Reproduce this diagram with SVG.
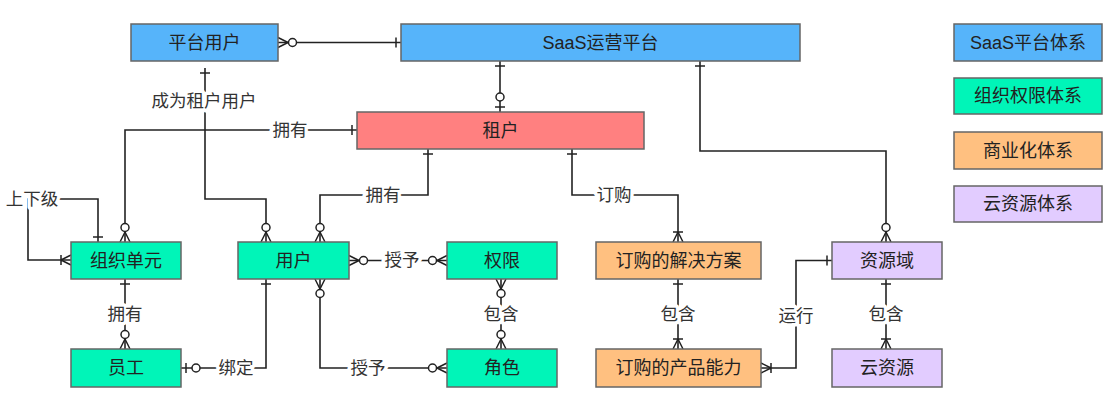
<svg xmlns="http://www.w3.org/2000/svg" width="1111" height="401" viewBox="0 0 1111 401">
<style>
.box{stroke:#666;stroke-width:1.5}
.blue{fill:#56B4FA}.green{fill:#00F5B8}.red{fill:#FF8080}.orange{fill:#FFC080}.purple{fill:#E2CCFF}
.t{font-family:"Liberation Sans","Noto Sans CJK SC",sans-serif;font-size:18px;fill:#222;text-anchor:middle;dominant-baseline:central}
.lbl{font-family:"Liberation Sans","Noto Sans CJK SC",sans-serif;font-size:17.5px;fill:#333;text-anchor:middle;dominant-baseline:central;paint-order:stroke;stroke:#fff;stroke-width:7px;stroke-linejoin:round}
.c{fill:none;stroke:#222;stroke-width:1.6}
.zm{marker-end:url(#zm)}.om{marker-end:url(#om)}.one{marker-end:url(#one)}.zo{marker-end:url(#zo)}
.s-zm{marker-start:url(#zm)}.s-one{marker-start:url(#one)}
</style>
<defs>
<marker id="zm" viewBox="-25 -10 30 20" markerWidth="30" markerHeight="20" refX="0" refY="0" orient="auto-start-reverse" markerUnits="userSpaceOnUse" overflow="visible">
<path d="M-10,0 L0,-5 M-10,0 L0,5" fill="none" stroke="#222" stroke-width="1.5"/>
<circle cx="-14.5" cy="0" r="4" fill="#fff" stroke="#222" stroke-width="1.5"/>
</marker>
<marker id="om" viewBox="-25 -10 30 20" markerWidth="30" markerHeight="20" refX="0" refY="0" orient="auto-start-reverse" markerUnits="userSpaceOnUse" overflow="visible">
<path d="M-10,0 L0,-5 M-10,0 L0,5 M-10,-5 L-10,5" fill="none" stroke="#222" stroke-width="1.5"/>
</marker>
<marker id="one" viewBox="-25 -10 30 20" markerWidth="30" markerHeight="20" refX="0" refY="0" orient="auto-start-reverse" markerUnits="userSpaceOnUse" overflow="visible">
<path d="M-5,-5 L-5,5" fill="none" stroke="#222" stroke-width="1.5"/>
</marker>
<marker id="zo" viewBox="-25 -10 30 20" markerWidth="30" markerHeight="20" refX="0" refY="0" orient="auto-start-reverse" markerUnits="userSpaceOnUse" overflow="visible">
<path d="M-5,-5 L-5,5" fill="none" stroke="#222" stroke-width="1.5"/>
<circle cx="-15" cy="0" r="4" fill="#fff" stroke="#222" stroke-width="1.5"/>
</marker>
</defs>
<rect width="1111" height="401" fill="#fff"/>

<g id="connectors">
<path class="c s-zm one" d="M278,42.5 H401"/>
<path class="c s-one zm" d="M205,68 V199 H266 V242"/>
<path class="c s-one zm" d="M357,130 H125 V242"/>
<path class="c s-one om" d="M98,242 V199 H28 V260 H71"/>
<path class="c s-one zm" d="M428,149 V195 H320 V242"/>
<path class="c s-one om" d="M572,149 V195 H678 V242"/>
<path class="c s-one zo" d="M500,61 V112"/>
<path class="c s-one zm" d="M700,61 V151 H886 V242"/>
<path class="c s-zm zm" d="M349,260.5 H447"/>
<path class="c s-zm zm" d="M320,279 V368 H447"/>
<path class="c s-one zo" d="M266,279 V368 H181"/>
<path class="c s-one zm" d="M125,279 V349"/>
<path class="c s-zm zm" d="M501,279 V349"/>
<path class="c s-one om" d="M678,279 V349"/>
<path class="c s-one om" d="M832,260.5 H796 V368 H761"/>
<path class="c s-one om" d="M886,279 V349"/>
<text class="lbl" x="204" y="101">成为租户用户</text>
<text class="lbl" x="290" y="130">拥有</text>
<text class="lbl" x="32" y="199">上下级</text>
<text class="lbl" x="383" y="195">拥有</text>
<text class="lbl" x="614" y="195">订购</text>
<text class="lbl" x="402" y="260">授予</text>
<text class="lbl" x="368" y="368">授予</text>
<text class="lbl" x="236" y="368">绑定</text>
<text class="lbl" x="125" y="314">拥有</text>
<text class="lbl" x="501" y="314">包含</text>
<text class="lbl" x="678" y="314">包含</text>
<text class="lbl" x="796" y="316">运行</text>
<text class="lbl" x="886" y="314">包含</text>
</g>

<g id="n-platform-user"><rect class="box blue" x="131" y="24" width="147" height="37"/><text class="t" x="204.5" y="42.5">平台用户</text></g>
<g id="n-saas"><rect class="box blue" x="401" y="24" width="399" height="37"/><text class="t" x="600.5" y="42.5">SaaS运营平台</text></g>
<g id="n-tenant"><rect class="box red" x="357" y="112" width="287" height="37"/><text class="t" x="500.5" y="130.5">租户</text></g>
<g id="n-org"><rect class="box green" x="71" y="242" width="110" height="37"/><text class="t" x="126" y="260.5">组织单元</text></g>
<g id="n-user"><rect class="box green" x="238" y="242" width="111" height="37"/><text class="t" x="293.5" y="260.5">用户</text></g>
<g id="n-perm"><rect class="box green" x="447" y="242" width="110" height="37"/><text class="t" x="502" y="260.5">权限</text></g>
<g id="n-solution"><rect class="box orange" x="596" y="242" width="165" height="37"/><text class="t" x="678.5" y="260.5">订购的解决方案</text></g>
<g id="n-domain"><rect class="box purple" x="832" y="242" width="110" height="37"/><text class="t" x="887" y="260.5">资源域</text></g>
<g id="n-staff"><rect class="box green" x="71" y="349" width="110" height="38"/><text class="t" x="126" y="368">员工</text></g>
<g id="n-role"><rect class="box green" x="447" y="349" width="110" height="38"/><text class="t" x="502" y="368">角色</text></g>
<g id="n-capability"><rect class="box orange" x="596" y="349" width="165" height="38"/><text class="t" x="678.5" y="368">订购的产品能力</text></g>
<g id="n-cloud"><rect class="box purple" x="832" y="349" width="110" height="38"/><text class="t" x="887" y="368">云资源</text></g>

<g id="legend-saas"><rect class="box blue" x="954" y="24" width="148" height="37"/><text class="t" x="1028" y="42.5">SaaS平台体系</text></g>
<g id="legend-org"><rect class="box green" x="954" y="78" width="148" height="36"/><text class="t" x="1028" y="96">组织权限体系</text></g>
<g id="legend-biz"><rect class="box orange" x="954" y="132" width="148" height="37"/><text class="t" x="1028" y="150.5">商业化体系</text></g>
<g id="legend-cloud"><rect class="box purple" x="954" y="186" width="148" height="36"/><text class="t" x="1028" y="204">云资源体系</text></g>
</svg>
